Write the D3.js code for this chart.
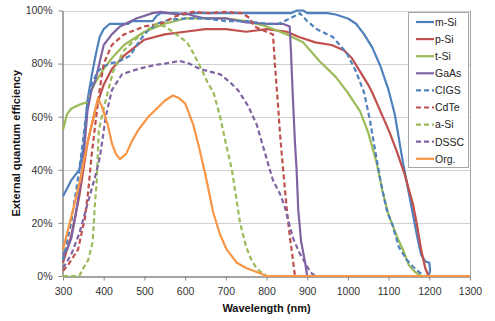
<!DOCTYPE html>
<html>
<head>
<meta charset="utf-8">
<script src="https://cdn.jsdelivr.net/npm/d3@7"></script>
<style>
  html, body { margin: 0; padding: 0; background: #fff; }
  svg { display: block; }
  text { font-family: "Liberation Sans", "DejaVu Sans", sans-serif; }
</style>
</head>
<body>
<svg id="chart" width="495" height="321"></svg>
<script>
// ---- data: [wavelength nm, EQE %] ----
const seriesNames = ["m-Si", "p-Si", "t-Si", "GaAs", "CIGS", "CdTe", "a-Si", "DSSC", "Org."];
const seriesColors = ["#4F81BD", "#C0504D", "#9BBB59", "#8064A2", "#4F81BD", "#C0504D", "#9BBB59", "#8064A2", "#F79646"];
const seriesDashed = [false, false, false, false, true, true, true, true, false];

const mSi = [[300,30],[310,33],[320,36],[330,38],[340,40],[350,48],[360,66],[370,75],[380,83],[390,90],[400,93],[415,95],[460,95],[470,96],[520,96],[530,98],[540,99],[580,99],[600,98.5],[620,99],[700,99],[800,99],[860,99],[875,100],[890,100],[900,99],[950,99],[970,98.5],[1000,97],[1020,95],[1040,91],[1060,86],[1080,79],[1100,70],[1115,61],[1125,52],[1135,43],[1145,35],[1160,23],[1170,15],[1180,8],[1190,5.5],[1200,5],[1202,2],[1198,0]];
const pSi = [[300,5],[320,15],[340,30],[360,50],[380,63],[400,72],[420,78],[450,83],[500,89],[550,91],[600,92],[650,93],[700,93],[750,92],[800,93],[850,92],[880,90],[920,88],[960,87],[990,85],[1010,82],[1030,77],[1050,72],[1060,69],[1080,62],[1100,55],[1120,47],[1140,38],[1160,27],[1170,19],[1180,10],[1190,3],[1198,0]];
const tSi = [[300,55],[310,61],[320,63],[340,64.5],[360,65.5],[370,70],[380,73],[400,78],[420,82],[450,87],[500,92],[550,95],[600,97],[650,97],[700,97],[750,96],[800,94],[850,91],[890,88],[930,81],[970,75],[1000,69],[1030,62],[1050,54],[1070,43],[1085,32],[1100,23],[1120,15],[1135,10],[1150,4],[1165,1.5],[1180,0]];
const gaAs = [[300,8],[310,10],[320,14],[330,22],[340,32],[350,44],[360,62],[370,70],[380,74],[400,87],[420,91],[440,94],[480,97],[520,99],[540,99.5],[560,99],[580,98.5],[600,99],[620,98],[650,97],[700,97],[750,95.5],[800,95],[840,95],[857,94],[860,85],[864,70],[870,50],[874,40],[878,25],[885,13],[895,5],[900,0]];
const cigs = [[300,6],[320,20],[340,40],[350,52],[360,65],[370,72],[385,77],[400,79],[415,80],[440,81],[465,83],[490,89],[506,92],[530,95],[560,96.5],[600,97],[650,97],[700,96],[750,96],[800,95],[830,95],[858,97],[882,99],[900,96],[923,93],[963,90],[997,84],[1020,77],[1040,69],[1055,58],[1065,49],[1080,36],[1095,25],[1110,19],[1125,11],[1145,6],[1160,3.5],[1175,1.5],[1188,0]];
const cdTe = [[300,2],[312,4],[337,10],[354,22],[362,32],[370,45],[380,58],[390,70],[400,80],[420,87],[450,91],[500,94],[540,95],[580,98],[620,99.5],[660,99],[700,99.5],[740,99],[760,97],[770,94],[800,92],[816,91],[821,79],[828,65],[833,54],[838,45],[845,33],[850,25],[858,14],[865,6],[870,0]];
const aSi = [[300,0],[340,0],[350,3],[362,6],[373,13],[378,26],[383,36],[388,55],[403,65],[423,77],[450,85],[470,88],[500,92],[530,95],[550,94],[570,92],[605,88],[620,84],[640,78],[655,73],[670,69],[686,60],[700,50],[715,40],[725,30],[735,20],[750,11],[760,7],[775,3],[790,1],[800,0]];
const dssc = [[300,3],[320,8],[340,16],[360,27],[380,38],[391,45],[405,60],[420,70],[445,76],[485,78],[526,79.5],[550,80],[587,81],[610,80],[636,78],[686,76],[710,73],[730,70],[755,64],[776,57],[795,47],[816,36],[833,31],[845,26],[855,20],[866,14],[880,9],[891,6],[902,3],[911,1],[920,0],[1200,0]];
const org = [[300,10],[320,22],[342,36],[360,50],[375,60],[386,67],[395,64],[410,57],[420,50],[430,46],[440,44],[455,46],[470,51],[485,55],[510,60],[530,63],[550,66],[570,68],[585,67],[600,65],[620,57],[635,48],[650,38],[669,24],[685,16],[702,10],[727,5],[750,3],[784,1],[800,0],[1300,0]];
const allSeries = [mSi, pSi, tSi, gaAs, cigs, cdTe, aSi, dssc, org];

const xTicks = [300, 400, 500, 600, 700, 800, 900, 1000, 1100, 1200, 1300];
const yTicks = [0, 20, 40, 60, 80, 100];
const xTitle = "Wavelength (nm)";
const yTitle = "External quantum efficiency";

// ---- layout ----
const svg = d3.select("#chart");
const L = 63, R = 470, T = 10.5, B = 276;
const x = d3.scaleLinear().domain([300, 1300]).range([L, R]);
const y = d3.scaleLinear().domain([0, 100]).range([B, T]);

// gridlines
svg.append("g").selectAll("line").data(yTicks.filter(d => d > 0)).join("line")
  .attr("x1", L).attr("x2", R)
  .attr("y1", d => Math.round(y(d)) + 0.5).attr("y2", d => Math.round(y(d)) + 0.5)
  .attr("stroke", "#d0d0d0").attr("stroke-width", 1);

// right border of plot area
svg.append("line").attr("x1", R + 0.5).attr("x2", R + 0.5).attr("y1", T).attr("y2", B)
  .attr("stroke", "#a6a6a6");

// axes
const xAxis = d3.axisBottom(x).tickValues(xTicks).tickSize(4).tickSizeOuter(0).tickPadding(7).tickFormat(d3.format("d"));
const yAxis = d3.axisLeft(y).tickValues(yTicks).tickSize(4).tickSizeOuter(0).tickPadding(6).tickFormat(d => d + "%");

const gx = svg.append("g").attr("transform", `translate(0,${Math.round(B) + 0.5})`).call(xAxis);
const gy = svg.append("g").attr("transform", `translate(${L - 0.5},0)`).call(yAxis);
[gx, gy].forEach(g => {
  g.select(".domain").attr("stroke", "#868686").attr("stroke-width", 1.5);
  g.selectAll(".tick line").attr("stroke", "#868686");
  g.selectAll(".tick text").attr("fill", "#333").style("font-size", "10.5px")
    .style("font-family", "'Liberation Sans', sans-serif");
});

// series lines
const line = d3.line().x(d => x(d[0])).y(d => y(d[1]));
svg.append("g").selectAll("path").data(allSeries).join("path")
  .attr("d", d => line(d))
  .attr("fill", "none")
  .attr("stroke", (d, i) => seriesColors[i])
  .attr("stroke-width", 2.2)
  .attr("stroke-linejoin", "round")
  .attr("stroke-dasharray", (d, i) => seriesDashed[i] ? "5,3" : null);

// axis titles
svg.append("text").attr("x", (L + R) / 2).attr("y", 312)
  .attr("text-anchor", "middle").style("font-size", "11px").style("font-weight", "bold")
  .attr("fill", "#111").text(xTitle);
svg.append("text").attr("transform", `translate(20,${(T + B) / 2}) rotate(-90)`)
  .attr("text-anchor", "middle").style("font-size", "11px").style("font-weight", "bold")
  .attr("fill", "#111").text(yTitle);

// legend
const lg = svg.append("g");
lg.append("rect").attr("x", 408.5).attr("y", 12.5).attr("width", 60).attr("height", 155)
  .attr("fill", "#fff").attr("stroke", "#a6a6a6");
const items = lg.selectAll("g.item").data(seriesNames).join("g")
  .attr("transform", (d, i) => `translate(0,${22 + i * 17.1})`);
items.append("line").attr("x1", 416).attr("x2", 434).attr("y1", 0).attr("y2", 0)
  .attr("stroke", (d, i) => seriesColors[i]).attr("stroke-width", 2.2)
  .attr("stroke-dasharray", (d, i) => seriesDashed[i] ? "5,3" : null);
items.append("text").attr("x", 435).attr("y", 3.8).style("font-size", "10.5px")
  .attr("fill", "#222").text(d => d);
</script>
</body>
</html>
